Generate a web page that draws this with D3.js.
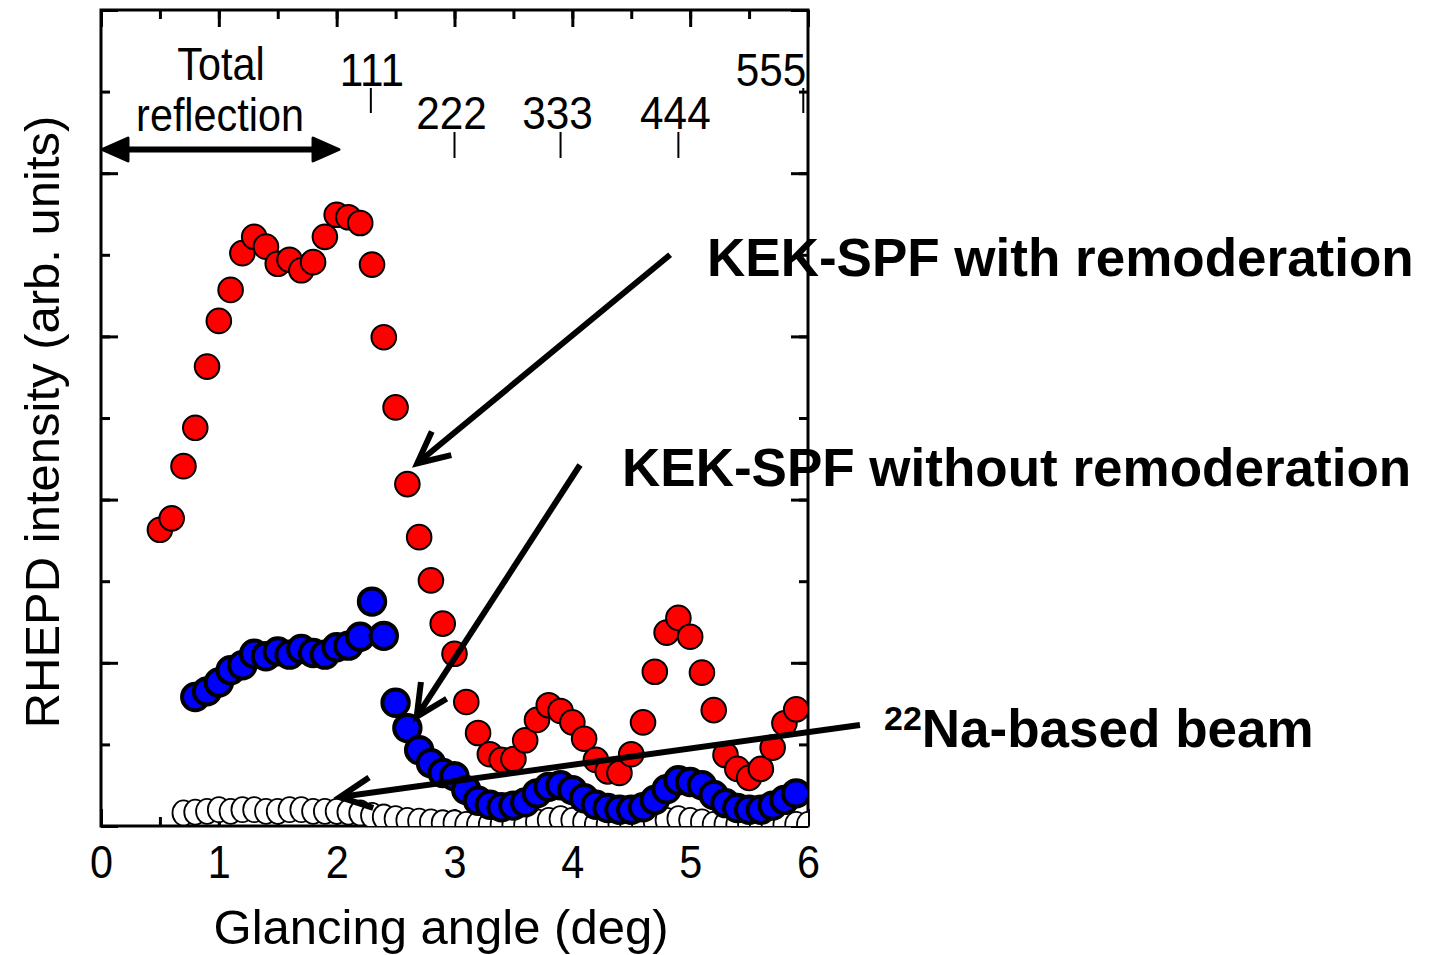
<!DOCTYPE html>
<html>
<head>
<meta charset="utf-8">
<title>RHEPD intensity vs glancing angle</title>
<script src="https://cdn.jsdelivr.net/npm/d3@7/dist/d3.min.js"></script>
<style>
  body { margin: 0; background: #fff; }
  text { font-family: "Liberation Sans", Arial, sans-serif; fill: #000; }
</style>
</head>
<body>
<div id="chart"></div>
<script>
// KEK-SPF with remoderation (red)
var redAngle = [0.5,0.6,0.7,0.8,0.9,1.0,1.1,1.2,1.3,1.4,1.5,1.6,1.7,1.8,1.9,2.0,2.1,2.2,2.3,2.4,
  2.5,2.6,2.7,2.8,2.9,3.0,3.1,3.2,3.3,3.4,3.5,3.6,3.7,3.8,3.9,4.0,4.1,4.2,4.3,4.4,
  4.5,4.6,4.7,4.8,4.9,5.0,5.1,5.2,5.3,5.4,5.5,5.6,5.7,5.8,5.9];
var redIntensity = [3.63,3.77,4.41,4.88,5.63,6.19,6.57,7.02,7.22,7.10,6.89,6.94,6.81,6.91,7.22,7.49,7.46,7.39,6.88,5.99,
  5.13,4.19,3.54,3.01,2.48,2.11,1.52,1.14,0.88,0.81,0.82,1.05,1.30,1.48,1.41,1.27,1.07,0.81,0.67,0.65,
  0.88,1.27,1.89,2.37,2.55,2.32,1.88,1.42,0.87,0.70,0.59,0.70,0.96,1.26,1.43];

// KEK-SPF without remoderation (blue)
var blueAngle = [0.8,0.9,1.0,1.1,1.2,1.3,1.4,1.5,1.6,1.7,1.8,1.9,2.0,2.1,2.2,2.3,2.4,
  2.5,2.6,2.7,2.8,2.9,3.0,3.1,3.2,3.3,3.4,3.5,3.6,3.7,3.8,3.9,4.0,4.1,4.2,4.3,4.4,
  4.5,4.6,4.7,4.8,4.9,5.0,5.1,5.2,5.3,5.4,5.5,5.6,5.7,5.8,5.9];
var blueIntensity = [1.58,1.65,1.76,1.91,1.97,2.11,2.08,2.14,2.10,2.17,2.12,2.10,2.19,2.21,2.32,2.75,2.33,
  1.51,1.20,0.93,0.77,0.65,0.61,0.44,0.31,0.26,0.23,0.25,0.29,0.40,0.48,0.50,0.44,0.34,0.26,0.22,0.20,
  0.20,0.23,0.32,0.45,0.56,0.54,0.50,0.38,0.28,0.22,0.20,0.20,0.25,0.32,0.40];

// 22Na-based beam (open)
var naAngle = [0.7,0.8,0.9,1.0,1.1,1.2,1.3,1.4,1.5,1.6,1.7,1.8,1.9,2.0,2.1,2.2,2.3,2.4,
  2.5,2.6,2.7,2.8,2.9,3.0,3.1,3.2,3.3,3.4,3.5,3.6,3.7,3.8,3.9,4.0,4.1,4.2,4.3,4.4,
  4.5,4.6,4.7,4.8,4.9,5.0,5.1,5.2,5.3,5.4,5.5,5.6,5.7,5.8,5.9,6.0];
var naIntensity = [0.16,0.17,0.18,0.20,0.18,0.20,0.20,0.18,0.18,0.20,0.20,0.18,0.18,0.18,0.17,0.16,0.13,0.11,
  0.09,0.07,0.06,0.05,0.04,0.04,0.02,0.02,0.02,0.02,0.02,0.02,0.05,0.07,0.09,0.07,0.05,0.02,0.02,0.02,
  0.02,0.02,0.05,0.07,0.09,0.07,0.05,0.02,0.02,0.02,0.02,0.02,0.02,0.02,0.02,0.02];

// Bragg reflection markers
var peakLabels = ["111","222","333","444","555"];
var peakAngles = [2.29, 3.0, 3.9, 4.9, 5.96];
var xTicks = [0,1,2,3,4,5,6];

var W = 1432, H = 955;
var svg = d3.select("#chart").append("svg").attr("width", W).attr("height", H);

var x = d3.scaleLinear().domain([0, 6]).range([101, 808]);
var y = d3.scaleLinear().domain([0, 10]).range([826, 10]);

svg.append("clipPath").attr("id", "clip")
  .append("rect").attr("x", 101).attr("y", 10).attr("width", 707).attr("height", 816);

// axes, ticks inward
function styleAxis(g) {
  g.select(".domain").remove();
  g.selectAll(".tick line").attr("stroke", "#000").attr("stroke-width", 3);
}
var minorX = d3.range(0, 6.01, 0.5), minorY = d3.range(0, 10.01, 1);

svg.append("g").attr("transform", "translate(0,826)")
  .call(d3.axisBottom(x).tickValues(minorX).tickSize(-9).tickFormat("")).call(styleAxis);
svg.append("g").attr("transform", "translate(0,826)")
  .call(d3.axisBottom(x).tickValues(xTicks).tickSize(-17).tickPadding(19).tickFormat(d3.format("d")))
  .call(styleAxis)
  .call(function (g) {
    g.selectAll("text").attr("font-size", 47).attr("transform", "scale(0.88,1)");
  });
svg.append("g").attr("transform", "translate(0,10)")
  .call(d3.axisTop(x).tickValues(minorX).tickSize(-9).tickFormat("")).call(styleAxis);
svg.append("g").attr("transform", "translate(0,10)")
  .call(d3.axisTop(x).tickValues(xTicks).tickSize(-17).tickFormat("")).call(styleAxis);

[[101, d3.axisLeft], [808, d3.axisRight]].forEach(function (a) {
  svg.append("g").attr("transform", "translate(" + a[0] + ",0)")
    .call(a[1](y).tickValues(minorY).tickSize(-9).tickFormat("")).call(styleAxis);
  svg.append("g").attr("transform", "translate(" + a[0] + ",0)")
    .call(a[1](y).tickValues(d3.range(0, 10.01, 2)).tickSize(-17).tickFormat("")).call(styleAxis);
});

svg.append("rect").attr("x", 101).attr("y", 10).attr("width", 707).attr("height", 816)
  .attr("fill", "none").attr("stroke", "#000").attr("stroke-width", 3);

// axis titles
svg.append("text").attr("x", 441).attr("y", 944).attr("text-anchor", "middle")
  .attr("font-size", 49).text("Glancing angle (deg)");
svg.append("text").attr("transform", "translate(59,422) rotate(-90)").attr("text-anchor", "middle")
  .attr("font-size", 49).text("RHEPD intensity (arb. units)");

// data
var plot = svg.append("g").attr("clip-path", "url(#clip)");

plot.selectAll(".na").data(naAngle).enter().append("ellipse")
  .attr("cx", function (d) { return x(d); })
  .attr("cy", function (d, i) { return y(naIntensity[i]); })
  .attr("rx", 11).attr("ry", 12.5)
  .attr("fill", "#fff").attr("stroke", "#000").attr("stroke-width", 1.8);

plot.selectAll(".red").data(redAngle).enter().append("circle")
  .attr("cx", function (d) { return x(d); })
  .attr("cy", function (d, i) { return y(redIntensity[i]); })
  .attr("r", 12.3)
  .attr("fill", "#ff0000").attr("stroke", "#000").attr("stroke-width", 2);

plot.selectAll(".blue").data(blueAngle).enter().append("circle")
  .attr("cx", function (d) { return x(d); })
  .attr("cy", function (d, i) { return y(blueIntensity[i]); })
  .attr("r", 13.2)
  .attr("fill", "#0000ff").attr("stroke", "#000").attr("stroke-width", 4);

// reflection markers
peakAngles.forEach(function (a, i) {
  var high = (i === 0 || i === 4);
  var y1 = high ? 88 : 132, y2 = high ? 113 : 158;
  svg.append("line").attr("x1", x(a)).attr("x2", x(a)).attr("y1", y1).attr("y2", y2)
    .attr("stroke", "#000").attr("stroke-width", 2);
  var tx = (i === 4) ? 771 : x(a) + (i === 0 ? 1 : -3);
  svg.append("text").attr("transform", "translate(" + tx + "," + (high ? 86 : 129) + ") scale(0.9,1)")
    .attr("text-anchor", "middle").attr("font-size", 47).text(peakLabels[i]);
});

// total reflection
[["Total", 221, 80], ["reflection", 220, 131]].forEach(function (t) {
  svg.append("text").attr("transform", "translate(" + t[1] + "," + t[2] + ") scale(0.88,1)")
    .attr("text-anchor", "middle").attr("font-size", 47).text(t[0]);
});
var ay = 149.5, ax1 = x(0) + 1, ax2 = x(2.02);
svg.append("line").attr("x1", ax1 + 20).attr("x2", ax2 - 20).attr("y1", ay).attr("y2", ay)
  .attr("stroke", "#000").attr("stroke-width", 6);
[[ax1, 1], [ax2, -1]].forEach(function (h) {
  var tip = h[0], dir = h[1];
  svg.append("path")
    .attr("d", "M" + tip + "," + ay + "L" + (tip + dir * 26) + "," + (ay - 11.5) +
      "L" + (tip + dir * 26) + "," + (ay + 11.5) + "Z")
    .attr("fill", "#000").attr("stroke", "#000").attr("stroke-width", 3).attr("stroke-linejoin", "round");
});

// pointer arrows (data space)
function arrow(x1, y1, x2, y2) {
  var px1 = x(x1), py1 = y(y1), px2 = x(x2), py2 = y(y2);
  var ang = Math.atan2(py1 - py2, px1 - px2), L = 35, s = 26 * Math.PI / 180;
  svg.append("line").attr("x1", px1).attr("y1", py1).attr("x2", px2).attr("y2", py2)
    .attr("stroke", "#000").attr("stroke-width", 6);
  svg.append("path")
    .attr("d", "M" + (px2 + L * Math.cos(ang + s)) + "," + (py2 + L * Math.sin(ang + s)) +
      "L" + px2 + "," + py2 +
      "L" + (px2 + L * Math.cos(ang - s)) + "," + (py2 + L * Math.sin(ang - s)))
    .attr("fill", "none").attr("stroke", "#000").attr("stroke-width", 6).attr("stroke-linejoin", "miter");
}
arrow(4.83, 7.0, 2.684, 4.445);
arrow(4.065, 4.424, 2.679, 1.339);
arrow(6.441, 1.238, 2.028, 0.355);

// labels
svg.append("text").attr("x", 707).attr("y", 276).attr("font-size", 53).attr("font-weight", "bold")
  .text("KEK-SPF with remoderation");
svg.append("text").attr("x", 622).attr("y", 486).attr("font-size", 53).attr("font-weight", "bold")
  .text("KEK-SPF without remoderation");
var na = svg.append("text").attr("x", 884).attr("y", 747).attr("font-size", 53).attr("font-weight", "bold");
na.append("tspan").attr("font-size", 34).attr("dy", -17).text("22");
na.append("tspan").attr("dy", 17).text("Na-based beam");
</script>
</body>
</html>
